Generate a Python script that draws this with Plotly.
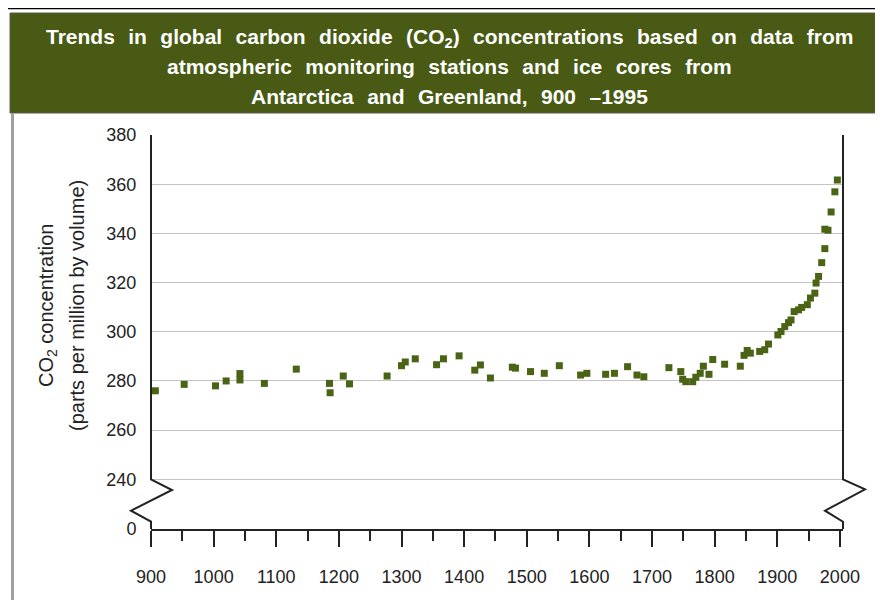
import plotly.graph_objects as go

# ---- data ----
years = [907, 953, 1003, 1020, 1042, 1042, 1081, 1132, 1185, 1186, 1207, 1217,
         1277, 1300, 1306, 1322, 1356, 1367, 1392, 1417, 1426, 1442, 1477, 1482,
         1506, 1528, 1552, 1586, 1596, 1626, 1640, 1661, 1676, 1687, 1727, 1746,
         1749, 1754, 1765, 1770, 1777, 1782, 1791, 1797, 1816, 1841, 1847, 1852,
         1857, 1872, 1880, 1886, 1901, 1906, 1912, 1918, 1922, 1927, 1934, 1939,
         1948, 1953, 1960, 1962, 1966, 1971, 1976, 1976, 1981, 1986, 1992, 1996]
co2_ppm = [276, 278.6, 278, 280, 283, 280.4, 279, 284.8, 279, 275.2, 282, 278.8,
           282, 286.2, 287.7, 289, 286.6, 289, 290.2, 284.4, 286.5, 281.2, 285.6, 285.2,
           283.8, 283.1, 286.2, 282.4, 283.1, 282.7, 283.1, 285.8, 282.4, 281.7, 285.4, 283.8,
           280.7, 279.7, 279.7, 281.5, 283.1, 286, 282.7, 288.7, 286.8, 286, 290.4, 292.4,
           291.3, 292, 292.7, 295, 298.7, 300.1, 302.1, 303.7, 304.8, 308.2, 308.9, 309.9,
           311, 313.7, 315.7, 319.8, 322.5, 328.1, 333.8, 341.7, 341.3, 348.7, 356.9, 361.7]

x_tick_vals = [900, 1000, 1100, 1200, 1300, 1400, 1500, 1600, 1700, 1800, 1900, 2000]
x_tick_text = [str(v) for v in x_tick_vals]
# axis is broken between 0 and 240: the "0" label sits at a stand-in position
y_zero_pos = 219.8
y_tick_vals = [y_zero_pos, 240, 260, 280, 300, 320, 340, 360, 380]
y_tick_text = ["0", "240", "260", "280", "300", "320", "340", "360", "380"]

title_lines = [
    "Trends in global carbon dioxide (CO<sub>2</sub>) concentrations based on data from",
    "atmospheric monitoring stations and ice cores from",
    "Antarctica and Greenland, 900 \u20131995",
]
y_title_lines = ["CO<sub>2</sub> concentration", "(parts per million by volume)"]

# ---- layout geometry (reference-window pixels; page body has an 8px margin) ----
OFF = 8
W_REF, H_REF = 883, 600
W_FIG, H_FIG = W_REF - OFF, H_REF - OFF
L, R, T, B = 151, 843, 135, 529
PW, PH = R - L, B - T

def px(x):
    return (x - L) / PW

def py(y):
    return (B - y) / PH

FONT = "Liberation Sans, Arial, sans-serif"
BAND = "#485a13"
DOT = "#4b6314"
INK = "#222222"

fig = go.Figure()
fig.add_trace(go.Scatter(
    x=years, y=co2_ppm, mode="markers",
    marker=dict(symbol="square", size=7, color=DOT, line=dict(width=0)),
    hoverinfo="x+y", showlegend=False, cliponaxis=False,
))

shapes = []
# top double rule
for yy, w in [(1.5, 1.5), (5, 3), (8.5, 1.5)]:
    shapes.append(dict(type="line", xref="paper", yref="paper",
                       x0=px(0), x1=px(W_REF + 5), y0=py(yy), y1=py(yy),
                       line=dict(color="black", width=w)))
# title band
shapes.append(dict(type="rect", xref="paper", yref="paper",
                   x0=px(10), x1=px(W_REF + 5), y0=py(113), y1=py(13),
                   fillcolor=BAND, line=dict(color="#5a5a4a", width=1), layer="below"))
# left page rule
shapes.append(dict(type="line", xref="paper", yref="paper",
                   x0=px(12.5), x1=px(12.5), y0=py(113), y1=py(H_REF + 5),
                   line=dict(color="#a0a0a0", width=3)))

def path(points):
    s = "M {} {}".format(px(points[0][0]), py(points[0][1]))
    for (a, b) in points[1:]:
        s += " L {} {}".format(px(a), py(b))
    return s

# left axis with break
shapes.append(dict(type="path", xref="paper", yref="paper",
                   path=path([(L, T), (L, 479.3), (172, 490), (131, 510.7), (L, 521.7), (L, B)]),
                   line=dict(color=INK, width=2)))
# right axis with break
shapes.append(dict(type="path", xref="paper", yref="paper",
                   path=path([(R, T), (R, 479.3), (865, 489.3), (825, 510.7), (R, 521.7), (R, B)]),
                   line=dict(color=INK, width=2)))

annotations = []
for line, yy in zip(title_lines, [38, 67, 96]):
    annotations.append(dict(text=line.replace(" ", " \u00a0\u200a"), xref="paper", yref="paper",
                            x=px(449), y=py(yy), xanchor="center", yanchor="middle",
                            showarrow=False,
                            font=dict(family=FONT, size=21, color="white", weight="bold")))
for line, xx in zip(y_title_lines, [47, 77]):
    annotations.append(dict(text=line, xref="paper", yref="paper",
                            x=px(xx), y=py(306), xanchor="center", yanchor="middle",
                            textangle=-90, showarrow=False,
                            font=dict(family=FONT, size=20, color=INK)))

fig.update_layout(
    width=W_FIG, height=H_FIG,
    margin=dict(l=L - OFF, r=W_REF - R, t=T - OFF, b=H_REF - B, pad=0),
    paper_bgcolor="white", plot_bgcolor="white",
    shapes=shapes, annotations=annotations,
    xaxis=dict(range=[900, 2005], tickmode="array", tickvals=x_tick_vals, ticktext=x_tick_text,
               showgrid=False, zeroline=False, showline=True, linecolor=INK, linewidth=2,
               ticks="outside", ticklen=16, tickwidth=2, tickcolor=INK,
               minor=dict(dtick=50, tick0=900, ticks="outside", ticklen=10, tickwidth=2, tickcolor=INK),
               ticklabelstandoff=14,
               tickfont=dict(family=FONT, size=18, color=INK)),
    yaxis=dict(range=[y_zero_pos, 380], tickmode="array", tickvals=y_tick_vals, ticktext=y_tick_text,
               showgrid=True, gridcolor="#c4c4c4", gridwidth=1, zeroline=False, showline=False,
               ticks="outside", ticklen=10, tickcolor="rgba(0,0,0,0)",
               tickfont=dict(family=FONT, size=18, color=INK)),
)

fig.write_html("out.html")
